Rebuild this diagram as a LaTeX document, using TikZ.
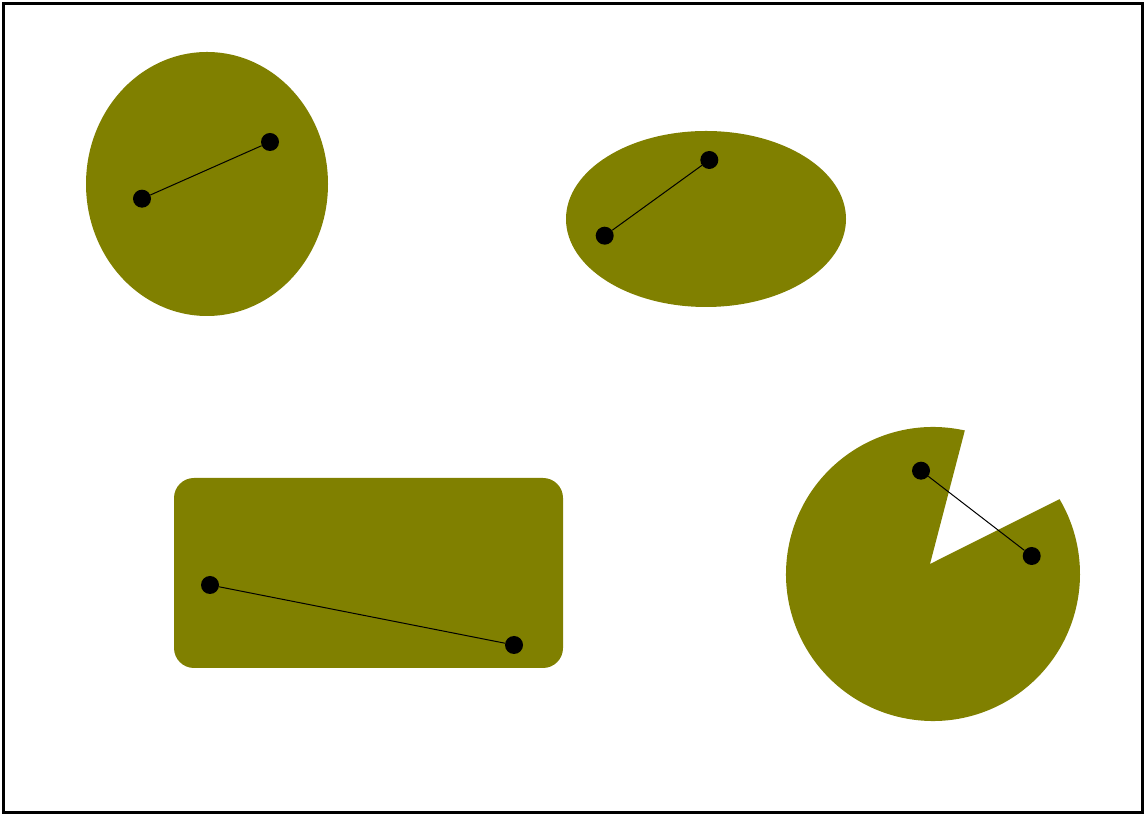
\documentclass[tikz,border=0pt]{standalone}
\usetikzlibrary{calc}
\definecolor{olivefill}{HTML}{808000}
\begin{document}
\begin{tikzpicture}[x=1pt,y=1pt,
  shapefill/.style={fill=olivefill,draw=none},
  dot/.style={circle,fill=black,draw=none,inner sep=0pt,minimum size=18pt},
  link/.style={draw=black,line width=1pt}]
\useasboundingbox (0,0) rectangle (1145,816);
\draw[line width=3pt] (3.5,3.5) rectangle (1142,812.5);
% shapes
\fill[shapefill] (207,632) ellipse [x radius=121, y radius=132];
\fill[shapefill] (706,597) ellipse [x radius=140, y radius=88];
\fill[shapefill,rounded corners=20pt] (174,148) rectangle (563,338);
\coordinate (pc) at (933,242);
\coordinate (apex) at (930,252);
\fill[shapefill] (apex) -- ($(pc)+(77.5:147)$) arc[start angle=77.5, end angle=390.6, radius=147] -- cycle;
% dots
\node[dot] (a1) at (142,617.3) {};
\node[dot] (a2) at (270,674) {};
\node[dot] (b1) at (604.7,580.3) {};
\node[dot] (b2) at (709.3,656) {};
\node[dot] (c1) at (210,231) {};
\node[dot] (c2) at (514,171) {};
\node[dot] (d1) at (921,345.3) {};
\node[dot] (d2) at (1031.7,260) {};
\draw[link] (a1) -- (a2);
\draw[link] (b1) -- (b2);
\draw[link] (c1) -- (c2);
\draw[link] (d1) -- (d2);
\end{tikzpicture}
\end{document}
